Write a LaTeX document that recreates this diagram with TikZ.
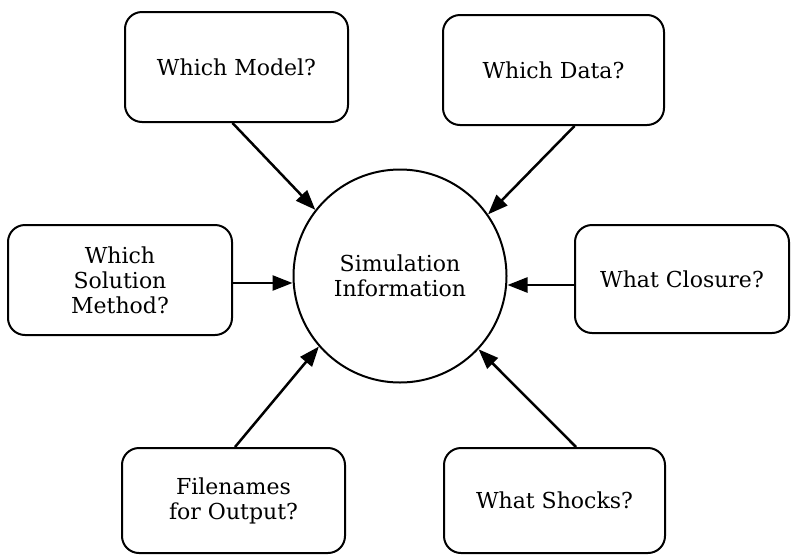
\documentclass[tikz,border=0pt]{standalone}
\usepackage{fontspec}
\setmainfont{DejaVu Serif}
\usetikzlibrary{arrows.meta}
\tikzset{
  qbox/.style={draw, line width=2pt, rounded corners=17pt, align=center, inner sep=0pt,
    font=\fontsize{22}{25}\selectfont},
  hub/.style={draw, circle, line width=2pt, minimum size=213pt, inner sep=0pt, align=center,
    font=\fontsize{22}{25}\selectfont},
  feed/.style={line width=2.5pt, -{Triangle[length=20pt,width=15pt]}}
}
\begin{document}
\begin{tikzpicture}[x=1pt,y=-1pt]
\useasboundingbox (0,0) rectangle (792,555);
\node[hub] (c) at (400,276) {Simulation\\Information};
\node[qbox, minimum width=223pt, minimum height=110pt] (m) at (236.5,67) {Which Model?};
\node[qbox, minimum width=221pt, minimum height=110pt] (d) at (553.5,70) {Which Data?};
\node[qbox, minimum width=224pt, minimum height=110pt] (s) at (120,280) {Which\\Solution\\Method?};
\node[qbox, minimum width=214pt, minimum height=108pt] (cl) at (682,279) {What Closure?};
\node[qbox, minimum width=223pt, minimum height=105pt] (f) at (233.5,500.5) {Filenames\\for Output?};
\node[qbox, minimum width=221pt, minimum height=105pt] (sh) at (554.5,500.5) {What Shocks?};
\draw[feed] ([xshift=-4pt]m.south) -- (c.142);
\draw[feed] ([xshift=21pt]d.south) -- (c.35);
\draw[feed] ([yshift=-3pt]s.east) -- ([yshift=-3pt]s.east -| c.west);
\draw[feed] ([yshift=-6pt]cl.west) -- ([yshift=-6pt]cl.west -| c.east);
\draw[feed] ([xshift=1.5pt]f.north) -- (c.221);
\draw[feed] ([xshift=21.5pt]sh.north) -- (c.317);
\end{tikzpicture}
\end{document}
